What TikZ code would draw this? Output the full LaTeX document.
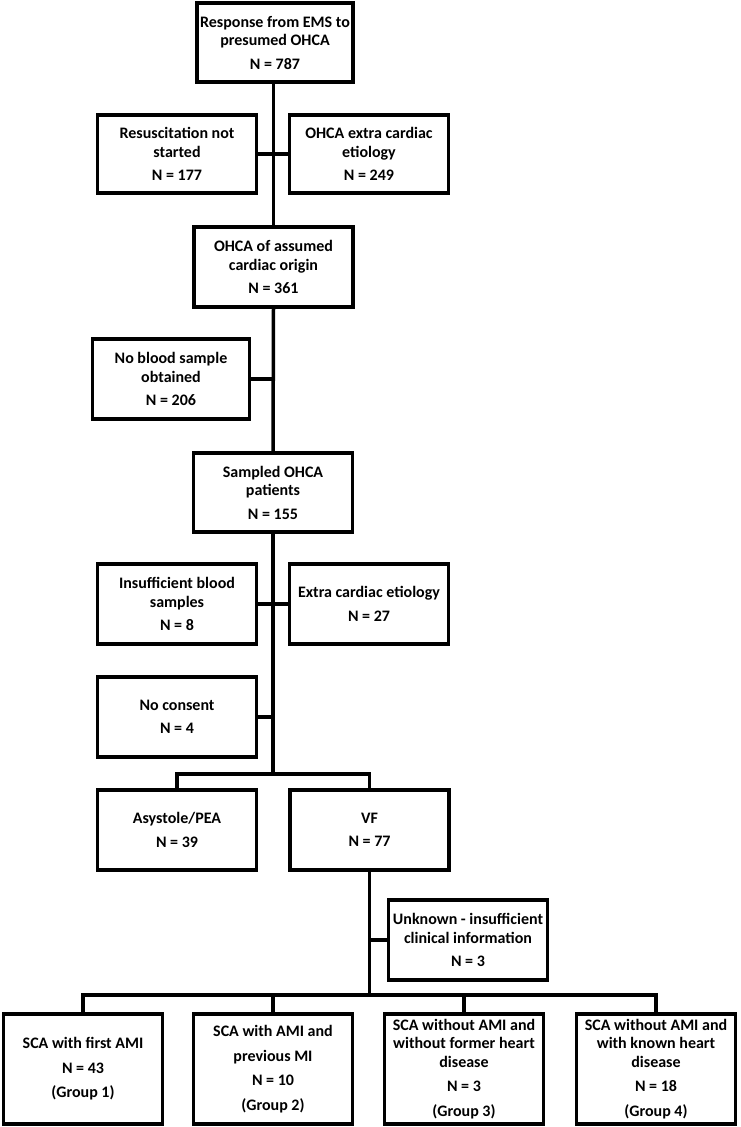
\documentclass[tikz,border=0pt]{standalone}
\usepackage{fontspec}
\setmainfont{Carlito}
\begin{document}
\begin{tikzpicture}[x=1pt,y=-1pt,
  box/.style={draw=black,line width=3.5pt,fill=white,inner sep=0pt,align=center,
    font=\fontsize{16}{18.5}\selectfont\bfseries,minimum width=159pt},
  line/.style={draw=black,line width=3.5pt}]
\useasboundingbox (0,0) rectangle (740,1127);
\node[box,minimum width=156pt,minimum height=79pt] (A) at (275,42.5) {Response from EMS to\\presumed OHCA\\[5pt]N = 787};
\node[box,minimum height=78pt] (B) at (177,154) {Resuscitation not\\started\\[5pt]N = 177};
\node[box,minimum height=78pt] (C) at (369,154) {OHCA extra cardiac\\etiology\\[5pt]N = 249};
\node[box,minimum height=80pt] (D) at (273.5,267) {OHCA of assumed\\cardiac origin\\[5pt]N = 361};
\node[box,minimum width=157pt,minimum height=80pt] (E) at (171,379) {No blood sample\\obtained\\[5pt]N = 206};
\node[box,minimum height=79pt] (F) at (273,492.5) {Sampled OHCA\\patients\\[5pt]N = 155};
\node[box,minimum height=80pt] (G) at (177,604) {Insufficient blood\\samples\\[5pt]N = 8};
\node[box,minimum height=80pt] (H) at (369,604) {Extra cardiac etiology\\[5pt]N = 27};
\node[box,minimum height=80pt] (I) at (177,717) {No consent\\[5pt]N = 4};
\node[box,minimum height=80pt] (J) at (177,830) {Asystole/PEA\\[5pt]N = 39};
\node[box,minimum height=80pt] (K) at (369.5,830) {VF\\[5pt]N = 77};
\node[box,minimum height=80pt] (L) at (468,940) {Unknown - insufficient\\clinical information\\[5pt]N = 3};
\node[box,minimum height=110pt] (M1) at (83,1069) {SCA with first AMI\\[6pt]N = 43\\[6pt](Group 1)};
\node[box,minimum height=110pt] (M2) at (273,1069) {SCA with AMI and\\[6pt]previous MI\\[6pt]N = 10\\[6pt](Group 2)};
\node[box,minimum height=110pt] (M3) at (464,1069) {SCA without AMI and\\without former heart\\disease\\[6pt]N = 3\\[6pt](Group 3)};
\node[box,minimum height=110pt] (M4) at (656,1069) {SCA without AMI and\\with known heart\\disease\\[6pt]N = 18\\[6pt](Group 4)};
\coordinate (j1) at (273,774);
\coordinate (j2) at (369.5,995);
% connectors
\draw[line] (A.south -| D.north) -- (D.north);
\draw[line] (B.east) -- (C.west);
\draw[line] (D.south) -- (F.north);
\draw[line] (E.east) -- (E.east -| D.south);
\draw[line] (F.south) -- (j1);
\draw[line] (G.east) -- (H.west);
\draw[line] (I.east) -- (I.east -| F.south);
\draw[line] (J.north) -- (J.north |- j1) -- (K.north |- j1) -- (K.north);
\draw[line] (K.south) -- (j2);
\draw[line] (L.west) -- (L.west -| K.south);
\draw[line] (M1.north) -- (M1.north |- j2) -- (M4.north |- j2) -- (M4.north);
\draw[line] (M2.north) -- (M2.north |- j2);
\draw[line] (M3.north) -- (M3.north |- j2);
\end{tikzpicture}
\end{document}
